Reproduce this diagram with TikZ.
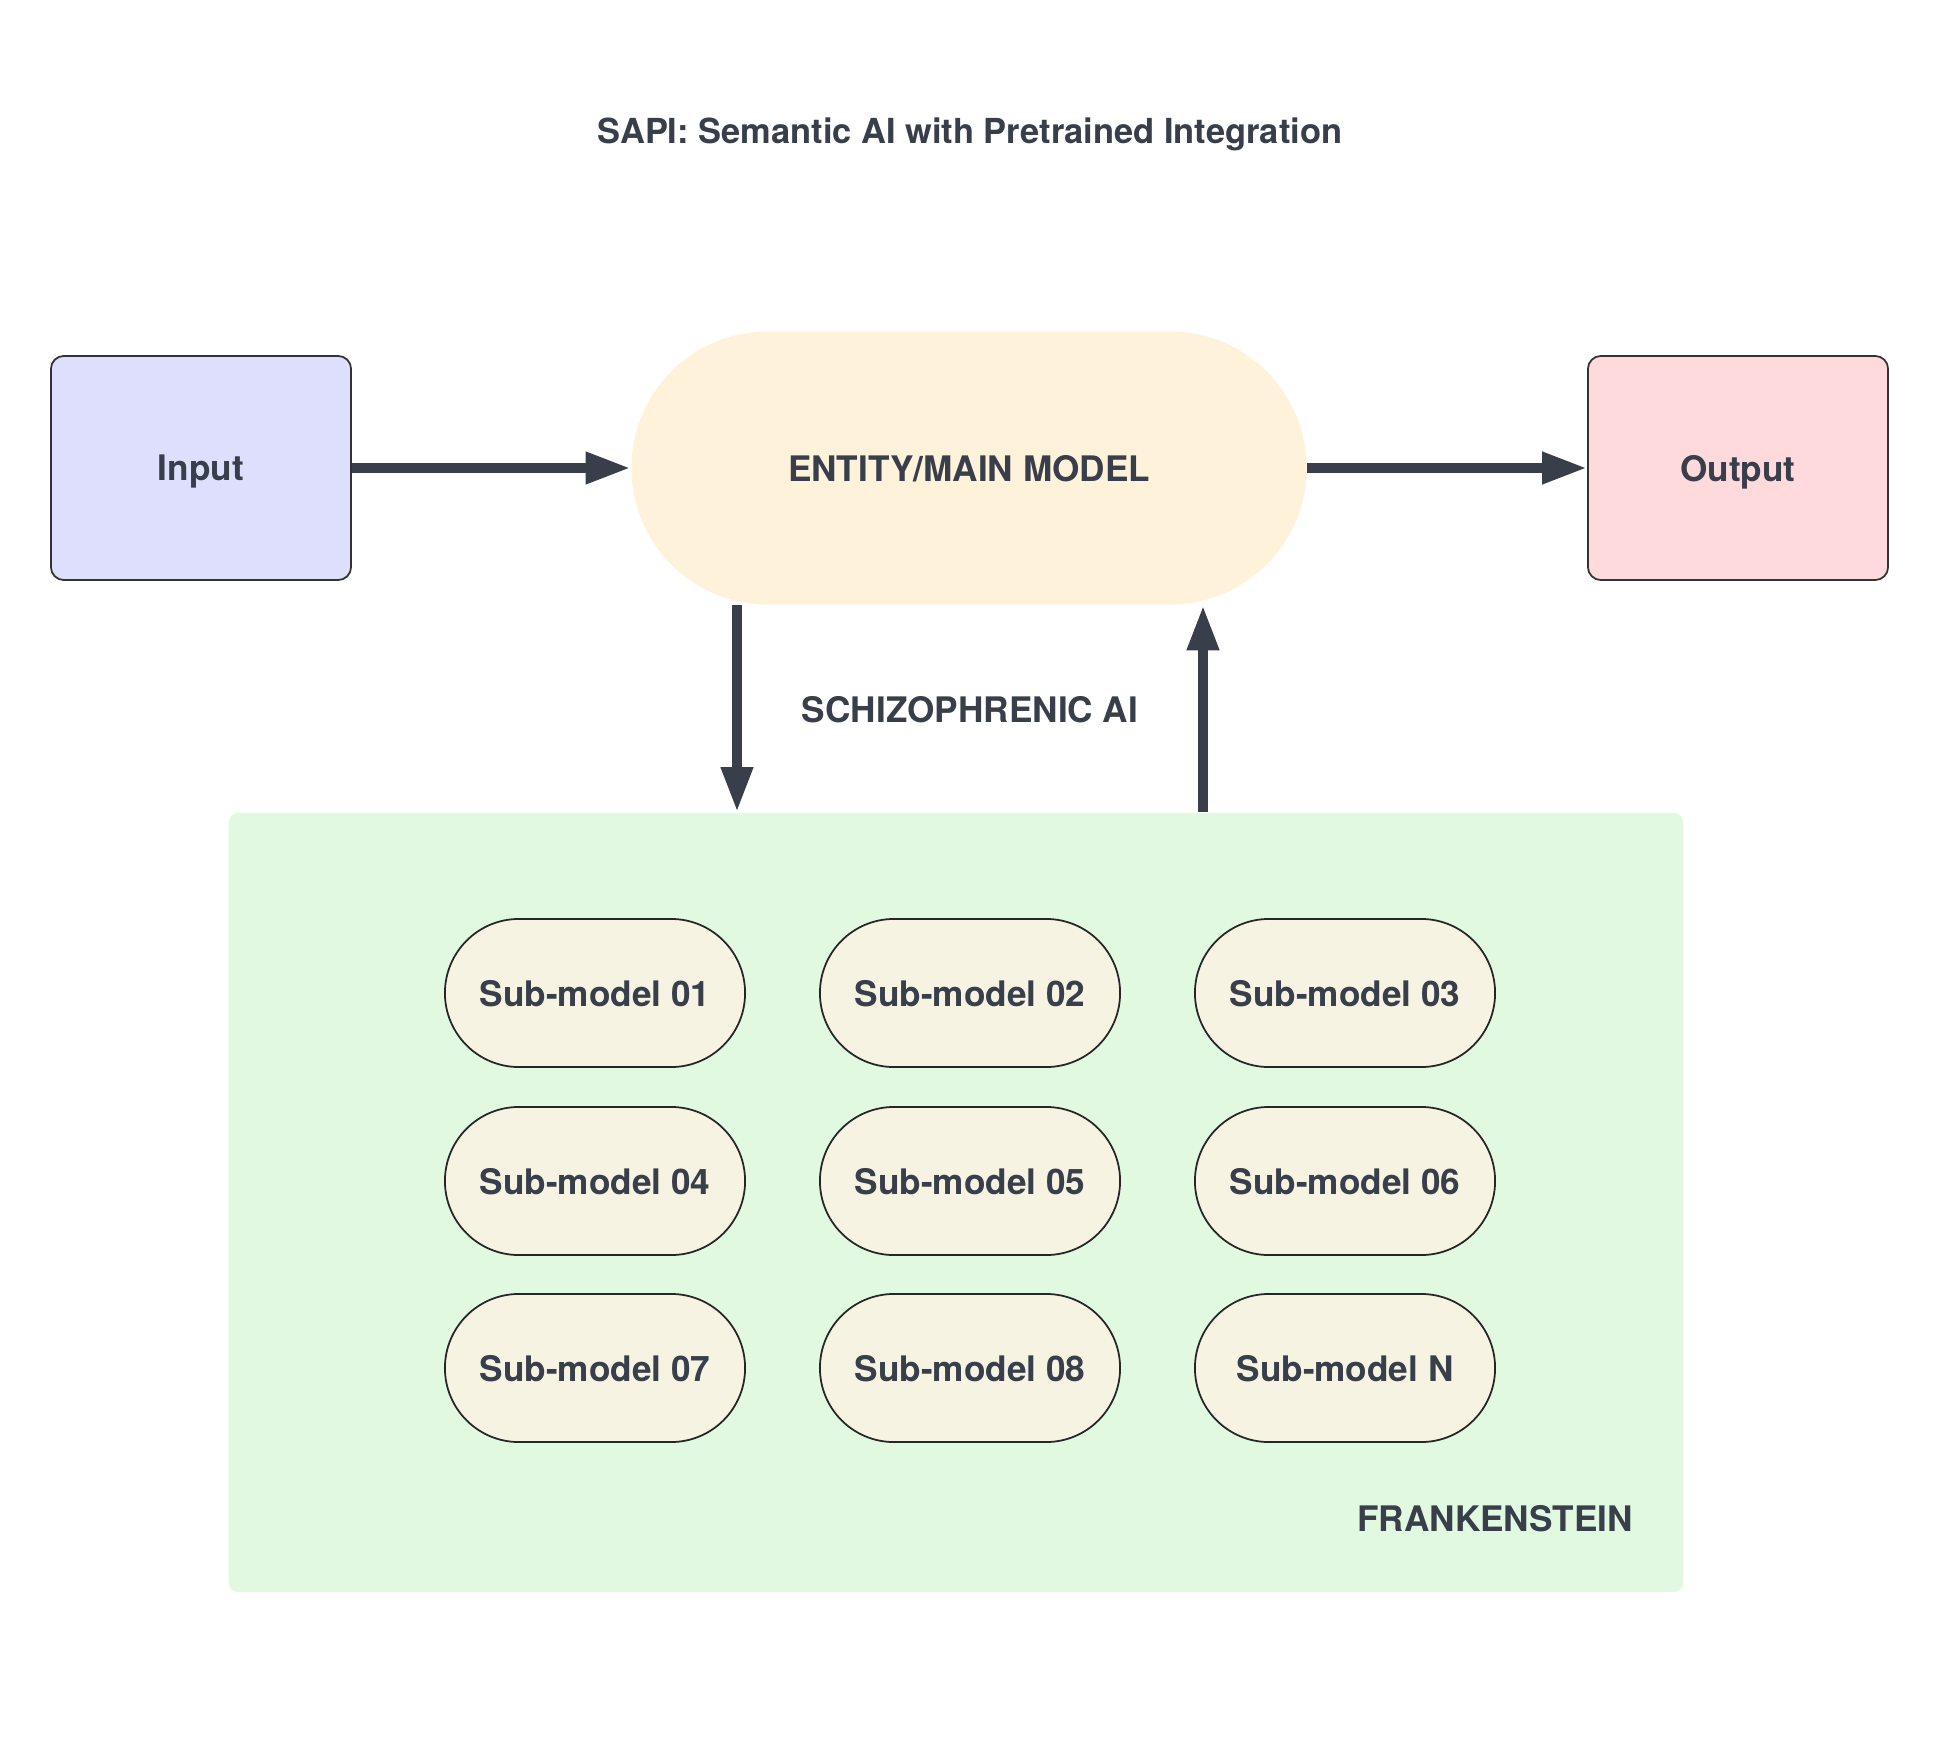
\documentclass[tikz,border=0pt]{standalone}
\usepackage{fontspec}
\setmainfont{TeX Gyre Heros}
\usepackage{tikz}
\usetikzlibrary{arrows.meta,positioning}

\definecolor{ink}{HTML}{383F4A}
\definecolor{inbg}{HTML}{DEDFFC}
\definecolor{outbg}{HTML}{FFDADC}
\definecolor{mainbg}{HTML}{FFF2DA}
\definecolor{frankbg}{HTML}{E1F9E1}
\definecolor{pillbg}{HTML}{F6F3E3}

\begin{document}
\begin{tikzpicture}[x=0.01cm,y=-0.01cm,
		every node/.style={font=\bfseries\fontsize{10}{12}\selectfont,text=ink,text depth=0pt},
		io/.style={draw=black!80,line width=0.5pt,rounded corners=0.13cm,minimum width=3cm,minimum height=2.24cm},
		pill/.style={draw=black!85,line width=0.5pt,fill=pillbg,rounded corners=0.74cm,minimum width=3cm,minimum height=1.48cm},
		flow/.style={ink,line width=0.1cm,-{Triangle[length=0.45cm,width=0.3cm]}}]
			\useasboundingbox (0,0) rectangle (1940,1746);
			\node[font=\bfseries\fontsize{9.8}{12}\selectfont] (title) at (970,131) {SAPI: Semantic AI with Pretrained Integration};
			% top row
			\node[io,fill=inbg] (input) at (201,468) {Input};
			\node[fill=mainbg,rounded corners=1.365cm,minimum width=6.75cm,minimum height=2.73cm] (entity) at (969,468) {ENTITY/MAIN MODEL};
			\node[io,fill=outbg] (output) at (1738,468) {Output};
			\draw[flow] (input) -- (entity);
			\draw[flow] (entity) -- (output);
			% frankenstein block
			\node[fill=frankbg,rounded corners=0.1cm,minimum width=14.54cm,minimum height=7.79cm] (frank) at (956,1202.5) {};
			\node (franklabel) at (1495,1518) {FRANKENSTEIN};
			\foreach \x/\y/\t in {595/993/01,970/993/02,1345/993/03,595/1181/04,970/1181/05,1345/1181/06,595/1368/07,970/1368/08,1345/1368/N}
				\node[pill] (sub\t) at (\x,\y) {Sub-model \t};
			\node (schizo) at (970,709) {SCHIZOPHRENIC AI};
			\draw[flow] (entity.south -| 737,0) -- (frank.north -| 737,0);
			\draw[flow] (frank.north -| 1203,0) -- (entity.south -| 1203,0);
		\end{tikzpicture}
\end{document}
